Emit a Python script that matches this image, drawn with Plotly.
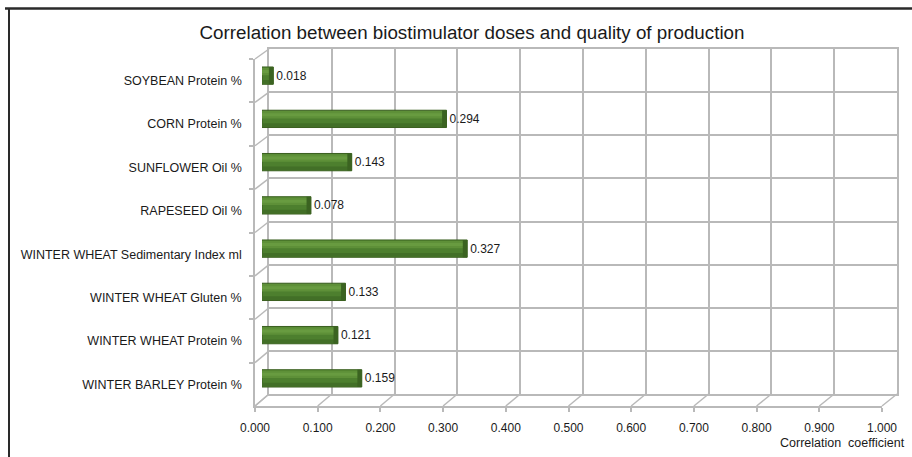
import plotly.graph_objects as go

# ---- data ----
categories = [
    "SOYBEAN Protein %",
    "CORN Protein %",
    "SUNFLOWER Oil %",
    "RAPESEED Oil %",
    "WINTER WHEAT Sedimentary Index ml",
    "WINTER WHEAT Gluten %",
    "WINTER WHEAT Protein %",
    "WINTER BARLEY Protein %",
]
values = [0.018, 0.294, 0.143, 0.078, 0.327, 0.133, 0.121, 0.159]
x_ticks = [0.0, 0.1, 0.2, 0.3, 0.4, 0.5, 0.6, 0.7, 0.8, 0.9, 1.0]
x_tick_labels = [f"{v:.3f}" for v in x_ticks]

W, H = 912, 457
def fx(p): return p / W
def fy(p): return 1 - p / H

# geometry (pixels)
FX0, FX1, FY_TOP, FY_BOT = 255, 882, 59, 406      # front plane
BX0, BX1, BY_TOP, BY_BOT = 269, 897, 49, 394      # back wall
MX0, MX1, MY_TOP, MY_BOT = (FX0 + BX0) / 2, (FX1 + BX1) / 2, (FY_TOP + BY_TOP) / 2, (FY_BOT + BY_BOT) / 2

n = len(categories)
grid_col = "#b9b9b9"
font = "Liberation Sans"
txt = "#1a1a1a"

fig = go.Figure()

# back wall subplot (grid only)
fig.add_trace(go.Scatter(x=[None], y=[None], xaxis="x", yaxis="y",
                         showlegend=False, hoverinfo="skip"))
# front subplot (axis lines, ticks, labels)
fig.add_trace(go.Scatter(x=[None] * n, y=categories, xaxis="x2", yaxis="y2",
                         showlegend=False, hoverinfo="skip", mode="markers"))

# main bars (mid-depth subplot)
fig.add_trace(go.Bar(
    x=values, y=categories, orientation="h", xaxis="x3", yaxis="y3",
    width=0.40,
    marker=dict(color="#4d7f2e", line=dict(color="#3a5f1f", width=1)),
    text=[f"{v:.3f}" for v in values], textposition="outside",
    textfont=dict(family=font, size=12, color=txt),
    cliponaxis=False, showlegend=False,
))
# lighter upper band
fig.add_trace(go.Bar(
    x=[v * 0.985 for v in values], y=categories, orientation="h", xaxis="x3", yaxis="y3",
    width=0.17, offset=-0.18,
    marker=dict(color="#5e9038", line=dict(width=0)),
    showlegend=False, hoverinfo="skip",
))
# soft highlight inside upper band
fig.add_trace(go.Bar(
    x=[v * 0.98 for v in values], y=categories, orientation="h", xaxis="x3", yaxis="y3",
    width=0.07, offset=-0.13,
    marker=dict(color="#689b40", line=dict(width=0)),
    showlegend=False, hoverinfo="skip",
))
# darker lower band
fig.add_trace(go.Bar(
    x=[v * 0.985 for v in values], y=categories, orientation="h", xaxis="x3", yaxis="y3",
    width=0.09, offset=0.10,
    marker=dict(color="#426f27", line=dict(width=0)),
    showlegend=False, hoverinfo="skip",
))
# darker end cap
cap = 0.007
fig.add_trace(go.Bar(
    x=[cap] * n, base=[v - cap for v in values], y=categories, orientation="h",
    xaxis="x3", yaxis="y3", width=0.40,
    marker=dict(color="#3b6321", line=dict(width=0)),
    showlegend=False, hoverinfo="skip",
))

shapes = []
for t in x_ticks:
    x_f = FX0 + t * (FX1 - FX0)
    x_b = BX0 + t * (BX1 - BX0)
    shapes.append(dict(type="line", xref="paper", yref="paper", layer="below",
                       x0=fx(x_f), y0=fy(FY_BOT), x1=fx(x_b), y1=fy(BY_BOT),
                       line=dict(color=grid_col, width=1.5)))
for k in range(n + 1):
    y_f = FY_TOP + k * (FY_BOT - FY_TOP) / n
    y_b = BY_TOP + k * (BY_BOT - BY_TOP) / n
    shapes.append(dict(type="line", xref="paper", yref="paper", layer="below",
                       x0=fx(FX0), y0=fy(y_f), x1=fx(BX0), y1=fy(y_b),
                       line=dict(color=grid_col, width=1.5)))
shapes.append(dict(type="line", xref="paper", yref="paper",
                   x0=fx(5), y0=fy(8.5), x1=1, y1=fy(8.5),
                   line=dict(color="#2a2a2a", width=2.5)))
shapes.append(dict(type="line", xref="paper", yref="paper",
                   x0=fx(9), y0=fy(8.5), x1=fx(9), y1=0,
                   line=dict(color="#2a2a2a", width=2)))

fig.update_layout(
    template="none",
    width=W, height=H,
    margin=dict(l=0, r=0, t=0, b=0, pad=0),
    paper_bgcolor="white", plot_bgcolor="rgba(0,0,0,0)",
    barmode="overlay", showlegend=False,
    font=dict(family=font, color=txt),
    title=dict(text="Correlation between biostimulator doses and quality of production",
               x=fx(472), xanchor="center", y=fy(32), yanchor="middle",
               font=dict(family=font, size=18.8, color=txt)),
    shapes=shapes,
    annotations=[dict(text="Correlation  coefficient", xref="paper", yref="paper",
                      x=fx(907), y=fy(443), xanchor="right", yanchor="middle",
                      showarrow=False, font=dict(family=font, size=12.5, color=txt))],
    # back wall
    xaxis=dict(domain=[fx(BX0), fx(BX1)], range=[0, 1], anchor="y", automargin=False,
               tickvals=x_ticks, showticklabels=False, ticks="",
               showgrid=True, gridcolor=grid_col, gridwidth=1.5,
               showline=True, mirror=True, linecolor=grid_col, linewidth=1.5,
               zeroline=False),
    yaxis=dict(domain=[fy(BY_BOT), fy(BY_TOP)], range=[n - 0.5, -0.5], anchor="x",
               automargin=False, tickvals=[k - 0.5 for k in range(n + 1)],
               showticklabels=False, ticks="",
               showgrid=True, gridcolor=grid_col, gridwidth=1.5,
               showline=True, mirror=True, linecolor=grid_col, linewidth=1.5,
               zeroline=False),
    # front plane
    xaxis2=dict(domain=[fx(FX0), fx(FX1)], range=[0, 1], anchor="y2", automargin=False,
                tickvals=x_ticks, ticktext=x_tick_labels,
                ticks="outside", ticklen=4, tickcolor=grid_col, tickwidth=1.5,
                showline=True, linecolor=grid_col, linewidth=1.5,
                showgrid=False, zeroline=False, ticklabelstandoff=6,
                tickfont=dict(family=font, size=12, color=txt)),
    yaxis2=dict(domain=[fy(FY_BOT), fy(FY_TOP)], type="category", automargin=False,
                categoryorder="array", categoryarray=categories,
                range=[n - 0.5, -0.5], anchor="x2",
                ticks="outside", tickson="boundaries", ticklen=4,
                tickcolor=grid_col, tickwidth=1.5,
                showline=True, linecolor=grid_col, linewidth=1.5,
                showgrid=False, zeroline=False, ticklabelstandoff=9,
                tickfont=dict(family=font, size=12.5, color=txt)),
    # bars at mid depth
    xaxis3=dict(domain=[fx(MX0), fx(MX1)], range=[0, 1], anchor="y3",
                visible=False, automargin=False),
    yaxis3=dict(domain=[fy(MY_BOT), fy(MY_TOP)], type="category", automargin=False,
                categoryorder="array", categoryarray=categories,
                range=[n - 0.5, -0.5], anchor="x3", visible=False),
)

fig.write_html("out.html", config={"displayModeBar": False},
               post_script="document.body.style.margin='0';document.body.style.overflow='hidden';")
